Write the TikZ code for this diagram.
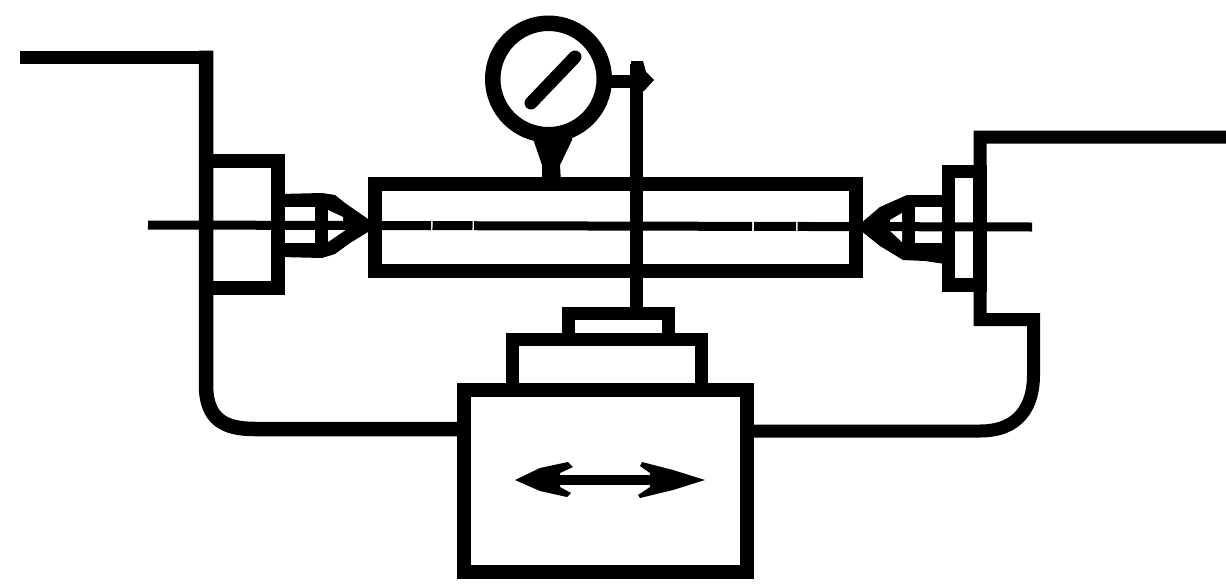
\documentclass[tikz,border=0pt]{standalone}
\begin{document}
\begin{tikzpicture}[x=1pt,y=-1pt,
  ink/.style={draw=black,line width=13pt,line cap=butt,line join=miter},
  blockbox/.style={draw=black,line width=14pt,rectangle,inner sep=0pt,outer sep=0pt,anchor=center},
  axisline/.style={draw=black,line width=9pt},
  solidink/.style={fill=black,draw=none},
  hole/.style={fill=white,draw=none}]
\useasboundingbox (0,0) rectangle (1226,584);
% named fixed points
\coordinate (wlstart) at (20,57);
\coordinate (wlcorner) at (206,57);
\coordinate (wrend) at (1226,137);
\coordinate (wrcorner) at (980,137);
\coordinate (axl) at (148,225);
\coordinate (axr) at (1032,227);
% centres (drawn first so bodies lie over them)
\fill[solidink] (280,194) -- (322,193) -- (335,195) -- (345,203) -- (368,219) -- (372,225) -- (368,232) -- (350,243) -- (335,254) -- (322,258) -- (280,257) -- cycle;
\fill[hole] (285,207) rectangle (315,243);
\fill[hole] (328,210) -- (343,217) -- (343,222) -- (328,222) -- cycle;
\fill[hole] (328,229) -- (347,229) -- (328,242) -- cycle;
\fill[solidink] (860,224) -- (880,207) -- (907,195) -- (945,195) -- (945,264) -- (925,261) -- (903,260) -- (880,246) -- (860,230) -- cycle;
\fill[hole] (915,207) rectangle (942,243);
\fill[hole] (890,220) -- (902,213) -- (902,225) -- (890,225) -- cycle;
\fill[hole] (888,229) -- (902,229) -- (902,242) -- cycle;
% bodies
\node[blockbox,minimum width=71.5pt,minimum height=127pt] (lblock) at (241.75,224.5) {};
\node[blockbox,minimum width=480.5pt,minimum height=87pt] (bar) at (615.25,227.5) {};
\node[blockbox,line width=13.5pt,minimum width=31.5pt,minimum height=113.5pt] (rblock) at (964.25,228.25) {};
\node[blockbox,minimum width=283.5pt,minimum height=182pt] (base) at (605.25,480.5) {};
\node[blockbox,line width=13.5pt,minimum width=189pt,anchor=south,minimum height=50pt] (slide) at (607,389.5) {};
\node[blockbox,line width=13.5pt,minimum width=100pt,anchor=south,minimum height=26pt] (carriage) at (618.5,339.5) {};
\node[draw=black,line width=15.5pt,circle,minimum size=111.5pt,inner sep=0pt,outer sep=0pt] (dial) at (548.5,79) {};
% centre line with its small breaks
\draw[axisline,dash pattern=on 283pt off 1.5pt on 40pt off 1.5pt on 278pt off 2pt on 42pt off 1.5pt on 240pt] (axl) -- (axr);
% left wire
\draw[ink,line width=14.5pt] (206,50.5) -- (206,385) .. controls (206,420) and (225,429) .. (255,429) -- (base.west |- 0,429);
\draw[ink] (wlstart) -- (wlcorner);
% right wire
\draw[ink] (wrend) -- (wrcorner) -- (980,319.5) -- (1033.5,319.5) -- (1033.5,375) .. controls (1033.5,405) and (1020,431) .. (980,431) -- (base.east |- 0,431);
% dial
\coordinate (ndlA) at (531,103);
\coordinate (ndlB) at (575,57);
\draw[ink,line cap=round] (ndlA) -- (ndlB);
\fill[solidink] (530,130) -- (573,130) -- (572,140) -- (560,165) -- (561,183) -- (542,183) -- (542,165) -- cycle;
% probe
\draw[ink] (dial.east |- 0,81) -- (636.5,81);
\draw[ink] (636.5,64) -- (carriage.north -| 636.5,0);
\fill[solidink] (631,61) -- (643,61) -- (646,72) -- (654,80) -- (644,91) -- (631,92) -- cycle;
% double arrow
\coordinate (arL) at (515,480);
\coordinate (arR) at (705,480);
\draw[ink,line width=10pt] (555,480) -- (655,480);
\fill[solidink] (arL) -- (540,468) -- (568,462) -- (573,467) -- (560,473) -- (560,487) -- (571,493) -- (567,497) -- (540,491) -- cycle;
\fill[solidink] (arR) -- (673,470) -- (642,462) -- (640,466) -- (650,473) -- (650,487) -- (638,495) -- (640,498) -- (673,490) -- cycle;
\end{tikzpicture}
\end{document}
